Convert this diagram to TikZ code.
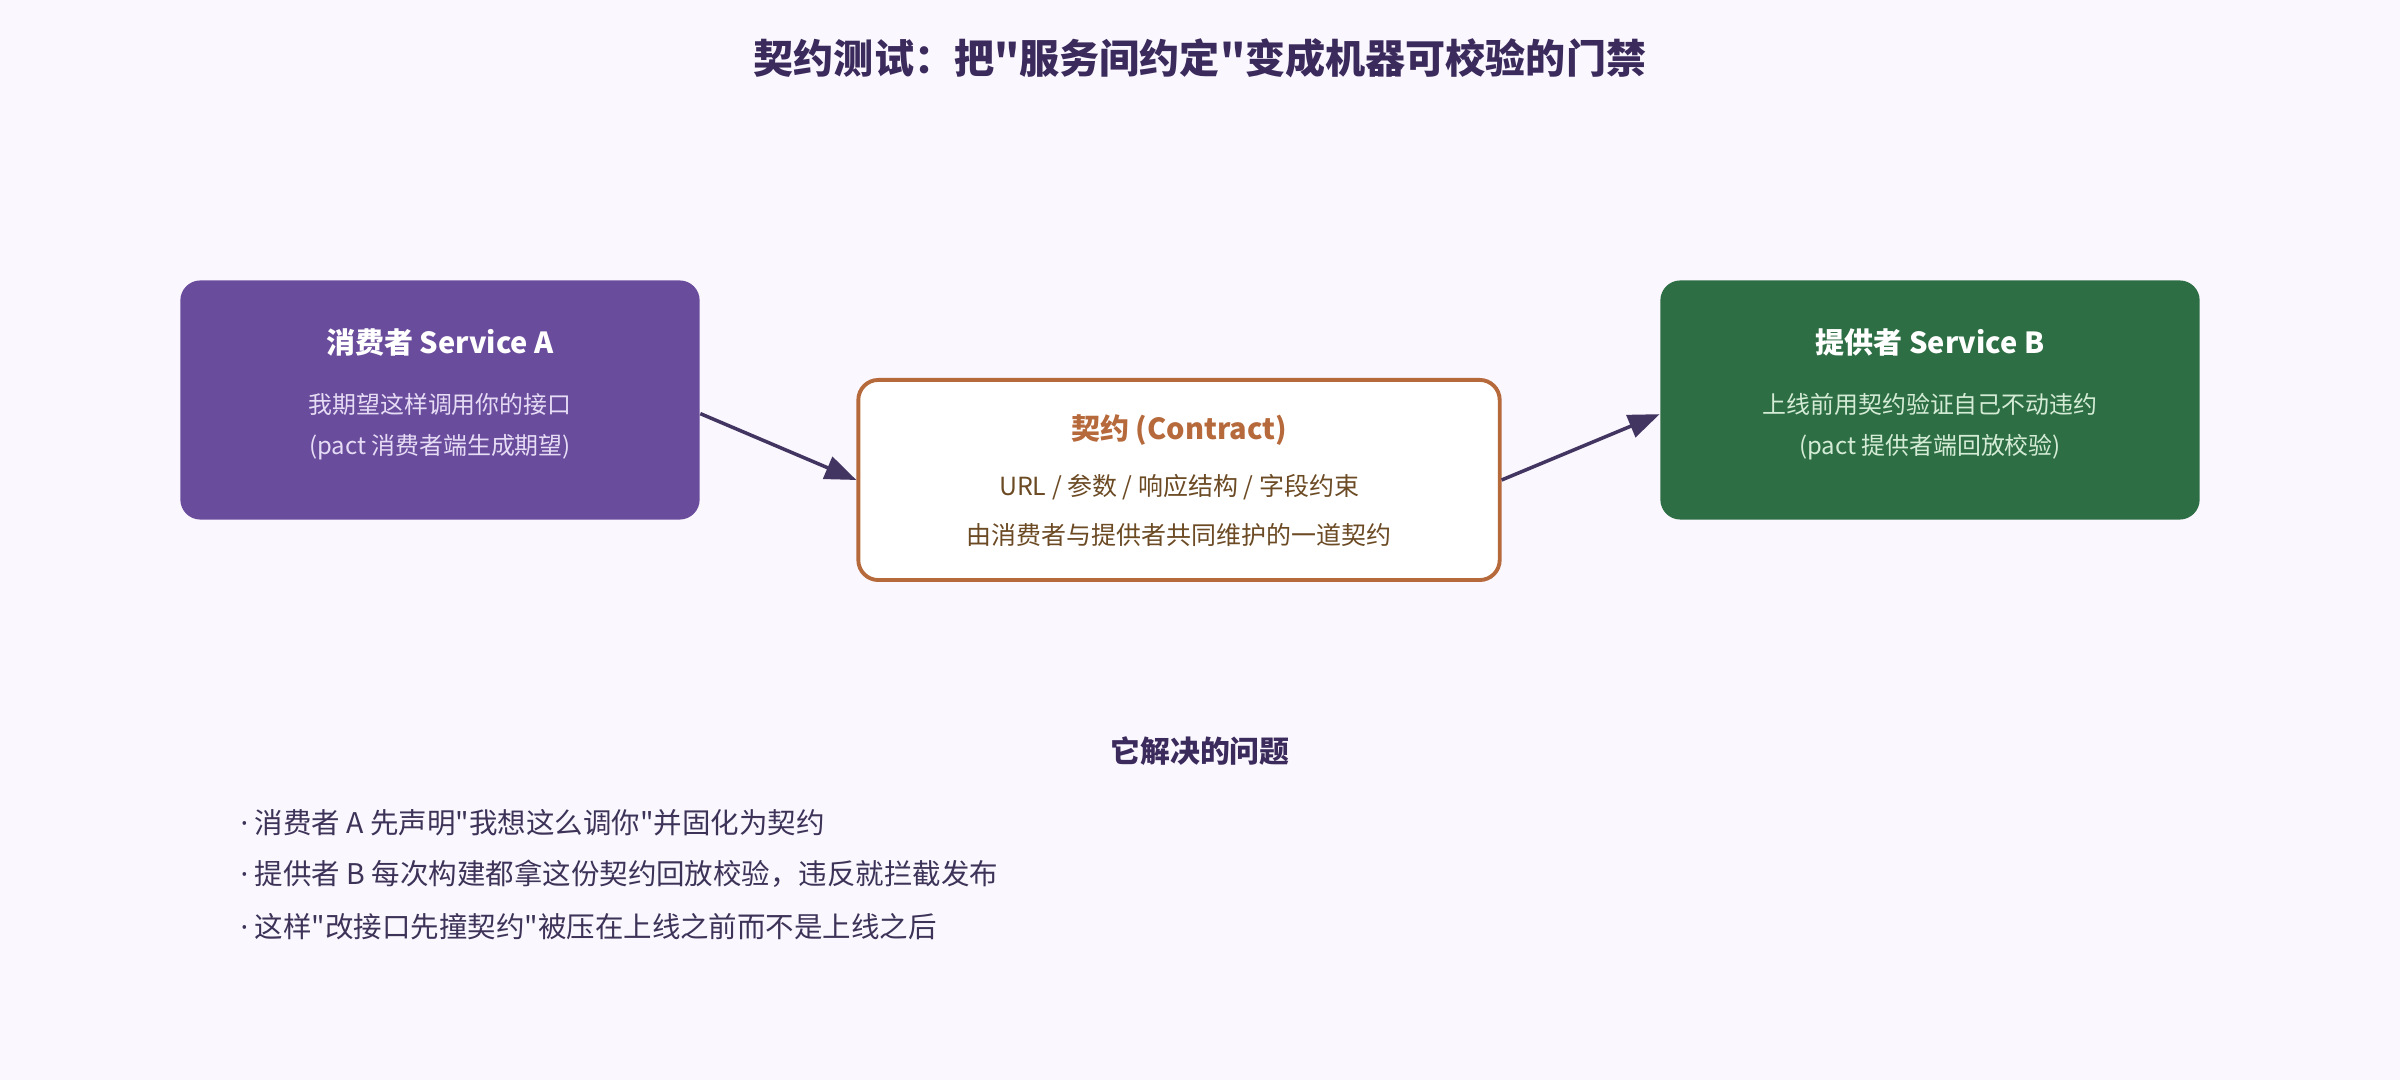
\documentclass[tikz,border=0pt]{standalone}
\usepackage{fontspec}
\setmainfont{Noto Sans CJK SC}[Ligatures=TeXOff]
\newfontfamily\dotfont{Noto Sans}[Ligatures=TeXOff]
\usetikzlibrary{arrows.meta}
\definecolor{bgcol}{HTML}{FAF7FE}
\definecolor{headcol}{HTML}{3B2A5C}
\definecolor{consumercol}{HTML}{6A4C9C}
\definecolor{consumertxt}{HTML}{E6DCF5}
\definecolor{providercol}{HTML}{2E6E44}
\definecolor{providertxt}{HTML}{D4ECD6}
\definecolor{contractcol}{HTML}{B6693B}
\definecolor{contracttxt}{HTML}{6B4A24}
\definecolor{arrowcol}{HTML}{433562}
\definecolor{bullettxt}{HTML}{3D3358}
\newcommand{\bdot}{{\dotfont ·} }
\begin{document}
\begin{tikzpicture}[x=0.01cm,y=-0.01cm,
  box/.style={rounded corners=0.2cm, inner sep=0pt, minimum height=2.39cm},
  boxtitle/.style={inner sep=0pt, font=\bfseries\fontsize{8.25}{10}\selectfont},
  boxline/.style={inner sep=0pt, font=\fontsize{6.8}{8}\selectfont},
  bullet/.style={inner sep=0pt, anchor=west, text=bullettxt, font=\fontsize{8.1}{9}\selectfont},
  flow/.style={-{Triangle[length=8.9pt,width=6.7pt]}, line width=1pt, draw=arrowcol}]
\useasboundingbox (0,0) rectangle (2400,1080);
\fill[bgcol] (0,0) rectangle (2400,1080);

\node[inner sep=0pt, text=headcol, font=\bfseries\fontsize{11.4}{13}\selectfont] (title) at (1200,58)
  {契约测试：把"服务间约定"变成机器可校验的门禁};

% the three boxes
\node[box, fill=consumercol, minimum width=5.19cm] (consumer) at (440,400) {};
\node[box, fill=providercol, minimum width=5.39cm] (provider) at (1930,400) {};
\node[box, fill=white, draw=contractcol, line width=1.1pt, minimum width=6.41cm, minimum height=2cm] (contract) at (1179,480) {};

\node[boxtitle, text=white] (consumerT) at (440,342) {消费者 Service A};
\node[boxline, text=consumertxt] (consumerL1) at (440,404) {我期望这样调用你的接口};
\node[boxline, text=consumertxt] (consumerL2) at (440,447) {(pact 消费者端生成期望)};

\node[boxtitle, text=contractcol] (contractT) at (1179,430) {契约 (Contract)};
\node[boxline, text=contracttxt, font=\fontsize{7.1}{8}\selectfont] (contractL1) at (1179,487) {URL / 参数 / 响应结构 / 字段约束};
\node[boxline, text=contracttxt, font=\fontsize{7.1}{8}\selectfont] (contractL2) at (1179,535) {由消费者与提供者共同维护的一道契约};

\node[boxtitle, text=white] (providerT) at (1930,342) {提供者 Service B};
\node[boxline, text=providertxt] (providerL1) at (1930,404) {上线前用契约验证自己不动违约};
\node[boxline, text=providertxt] (providerL2) at (1930,447) {(pact 提供者端回放校验)};

\draw[flow] (consumer.-3) -- (contract.west);
\draw[flow] (contract.east) -- (provider.183);

% what it solves
\node[inner sep=0pt, text=headcol, font=\bfseries\fontsize{8.5}{10}\selectfont] (solves) at (1200,751) {它解决的问题};
\node[bullet] (b1) at (240,823) {\bdot 消费者 A 先声明"我想这么调你"并固化为契约};
\node[bullet] (b2) at (240,874) {\bdot 提供者 B 每次构建都拿这份契约回放校验，违反就拦截发布};
\node[bullet] (b3) at (240,927) {\bdot 这样"改接口先撞契约"被压在上线之前而不是上线之后};
\end{tikzpicture}
\end{document}
